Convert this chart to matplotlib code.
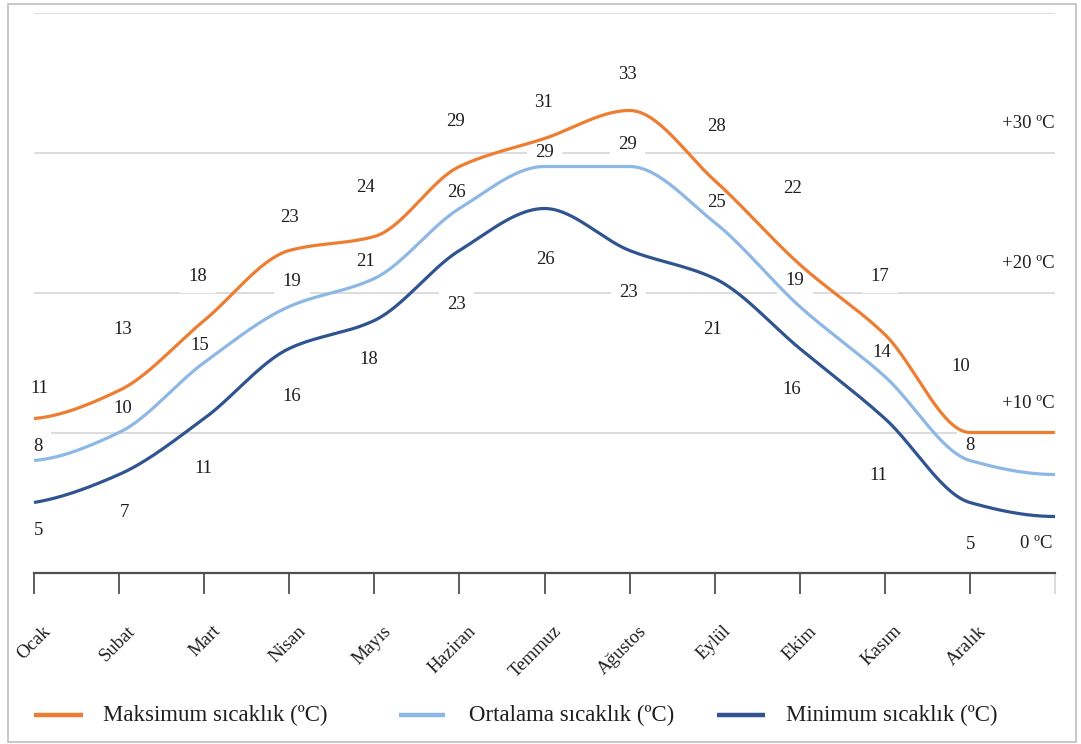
import numpy as np
import matplotlib
matplotlib.use("Agg")
import matplotlib.pyplot as plt
from matplotlib.lines import Line2D
from matplotlib.patches import Rectangle

plt.rcParams["font.family"] = ["Liberation Serif", "DejaVu Serif"]

# ---- data -------------------------------------------------------------
months = ["Ocak", "Subat", "Mart", "Nisan", "Mayıs", "Haziran", "Temmuz",
          "Ağustos", "Eylül", "Ekim", "Kasım", "Aralık"]
max_temp = [11, 13, 18, 23, 24, 29, 31, 33, 28, 22, 17, 10]
avg_temp = [8, 10, 15, 19, 21, 26, 29, 29, 25, 19, 14, 8]
min_temp = [5, 7, 11, 16, 18, 23, 26, 23, 21, 16, 11, 5]
# values where the curves close at the year's end (right edge)
max_end, avg_end, min_end = 10, 7, 4

grid_levels = [0, 10, 20, 30]
grid_labels = ["0 ºC", "+10 ºC", "+20 ºC", "+30 ºC"]
legend_labels = ["Maksimum sıcaklık (ºC)", "Ortalama sıcaklık (ºC)",
                 "Minimum sıcaklık (ºC)"]

# value-label offsets in pixels from each point
max_lbl_dx = [5, 4, -6, 0, -9, -4, -1, -2, 2, -7, -5, -9]
max_lbl_dy = [30, 61, 44, 33, 49, 45, 36, 36, 54, 76, 58, 66]
avg_lbl_dx = [4, 4, -4, 3, -9, -3, 0, -2, 2, -5, -3, 0]
avg_lbl_dy = [14, 24, 17, 25, 17, 16, 14, 22, 20, 26, 24, 15]
min_lbl_dx = [5, 5, -1, 2, -6, -3, 1, -1, -2, -8, -6, 1]
min_lbl_dy = [-28, -38, -50, -48, -39, -54, -51, -42, -51, -41, -57, -42]

COL_MAX = "#ED7D31"
COL_AVG = "#8DB8E6"
COL_MIN = "#2F5490"
TXT = "#1F1F1F"


def pchip_curve(x, y, n=60):
    """Shape-preserving (monotone) cubic through the points."""
    x = np.asarray(x, float)
    y = np.asarray(y, float)
    h = np.diff(x)
    d = np.diff(y) / h
    m = np.zeros_like(y)
    for k in range(1, len(y) - 1):
        if d[k - 1] * d[k] > 0:
            w1 = 2 * h[k] + h[k - 1]
            w2 = h[k] + 2 * h[k - 1]
            m[k] = (w1 + w2) / (w1 / d[k - 1] + w2 / d[k])

    def end_slope(h0, h1, d0, d1):
        s = ((2 * h0 + h1) * d0 - h0 * d1) / (h0 + h1)
        if np.sign(s) != np.sign(d0):
            return 0.0
        if np.sign(d0) != np.sign(d1) and abs(s) > 3 * abs(d0):
            return 3 * d0
        return s

    m[0] = end_slope(h[0], h[1], d[0], d[1])
    m[-1] = end_slope(h[-1], h[-2], d[-1], d[-2])
    xs, ys = [], []
    for k in range(len(h)):
        t = np.linspace(0, 1, n)
        h00 = 2 * t**3 - 3 * t**2 + 1
        h10 = t**3 - 2 * t**2 + t
        h01 = -2 * t**3 + 3 * t**2
        h11 = t**3 - t**2
        xs.append(x[k] + t * h[k])
        ys.append(h00 * y[k] + h10 * h[k] * m[k] + h01 * y[k + 1] + h11 * h[k] * m[k + 1])
    return np.concatenate(xs), np.concatenate(ys)


W, H = 1081, 744
fig = plt.figure(figsize=(W / 100, H / 100), dpi=100)
fig.patch.set_facecolor("white")

ax_left, ax_right = 34, 1055
ax_bottom, ax_top = 572.5, 12.5
ax = fig.add_axes([ax_left / W, 1 - ax_bottom / H,
                   (ax_right - ax_left) / W, (ax_bottom - ax_top) / H])
ax.set_xlim(0, 12)
ax.set_ylim(0, 40)

# horizontal reference lines
for g in [10, 20, 30, 40]:
    ax.axhline(g, color="#DCDCDC", lw=1.4, zorder=0.5)

xpos = np.arange(13)
series = [
    (max_temp, max_end, COL_MAX, max_lbl_dx, max_lbl_dy),
    (avg_temp, avg_end, COL_AVG, avg_lbl_dx, avg_lbl_dy),
    (min_temp, min_end, COL_MIN, min_lbl_dx, min_lbl_dy),
]
handles = []
for vals, end, col, ldx, ldy in series:
    cx, cy = pchip_curve(xpos, list(vals) + [end])
    ln, = ax.plot(cx, cy, color=col, lw=2.3, solid_capstyle="butt",
                  zorder=3, clip_on=False)
    handles.append(ln)
    for i, v in enumerate(vals):
        ax.annotate(str(v), xy=(i, v), xytext=(ldx[i], ldy[i]),
                    textcoords="offset pixels", ha="center", va="center",
                    fontsize=13.5, color=TXT, zorder=2.5,
                    bbox=dict(boxstyle="square,pad=0.45", fc="white",
                              ec="none"))

# temperature level captions on the right
for g, lab in zip(grid_levels, grid_labels):
    ax.annotate(lab, xy=(12, g), xytext=(-3 if g == 0 else 0, 29),
                textcoords="offset pixels", ha="right", va="center",
                fontsize=13.5, color=TXT)

# axis styling
for s in ["left", "right", "top"]:
    ax.spines[s].set_visible(False)
ax.spines["bottom"].set_color("#505050")
ax.spines["bottom"].set_linewidth(1.6)
ax.set_yticks([])
ax.set_xticks(xpos[:-1])
ax.set_xticks(xpos[-1:], minor=True)
ax.tick_params(axis="x", which="major", direction="out", length=15,
               width=1.3, color="#505050", labelbottom=False)
ax.tick_params(axis="x", which="minor", direction="out", length=15,
               width=1.3, color="#D8D8D8", labelbottom=False)

for i, name in enumerate(months):
    ax.annotate(name, xy=(i, 0), xycoords=("data", "axes fraction"),
                xytext=(8, -50), textcoords="offset pixels",
                rotation=45, rotation_mode="anchor", ha="right", va="top",
                fontsize=13.5, color=TXT)

# legend drawn along the bottom
leg_y = 1 - 715 / H
leg_lines = [(34, 83, 103), (399, 445, 469), (717, 765, 786)]
for (x0, x1, tx), h, lab in zip(leg_lines, handles, legend_labels):
    fig.add_artist(Line2D([x0 / W, x1 / W], [leg_y, leg_y],
                          transform=fig.transFigure, color=h.get_color(),
                          lw=3.2, solid_capstyle="butt"))
    fig.text(tx / W, leg_y, lab, ha="left", va="center", fontsize=16.5,
             color=TXT)

# outer frame
fig.add_artist(Rectangle((8 / W, 2 / H), (1076 - 8) / W, (741 - 3) / H,
                         transform=fig.transFigure, fill=False,
                         edgecolor="#BFBFBF", lw=1.2))

fig.savefig("out.png", dpi=100, facecolor="white")
